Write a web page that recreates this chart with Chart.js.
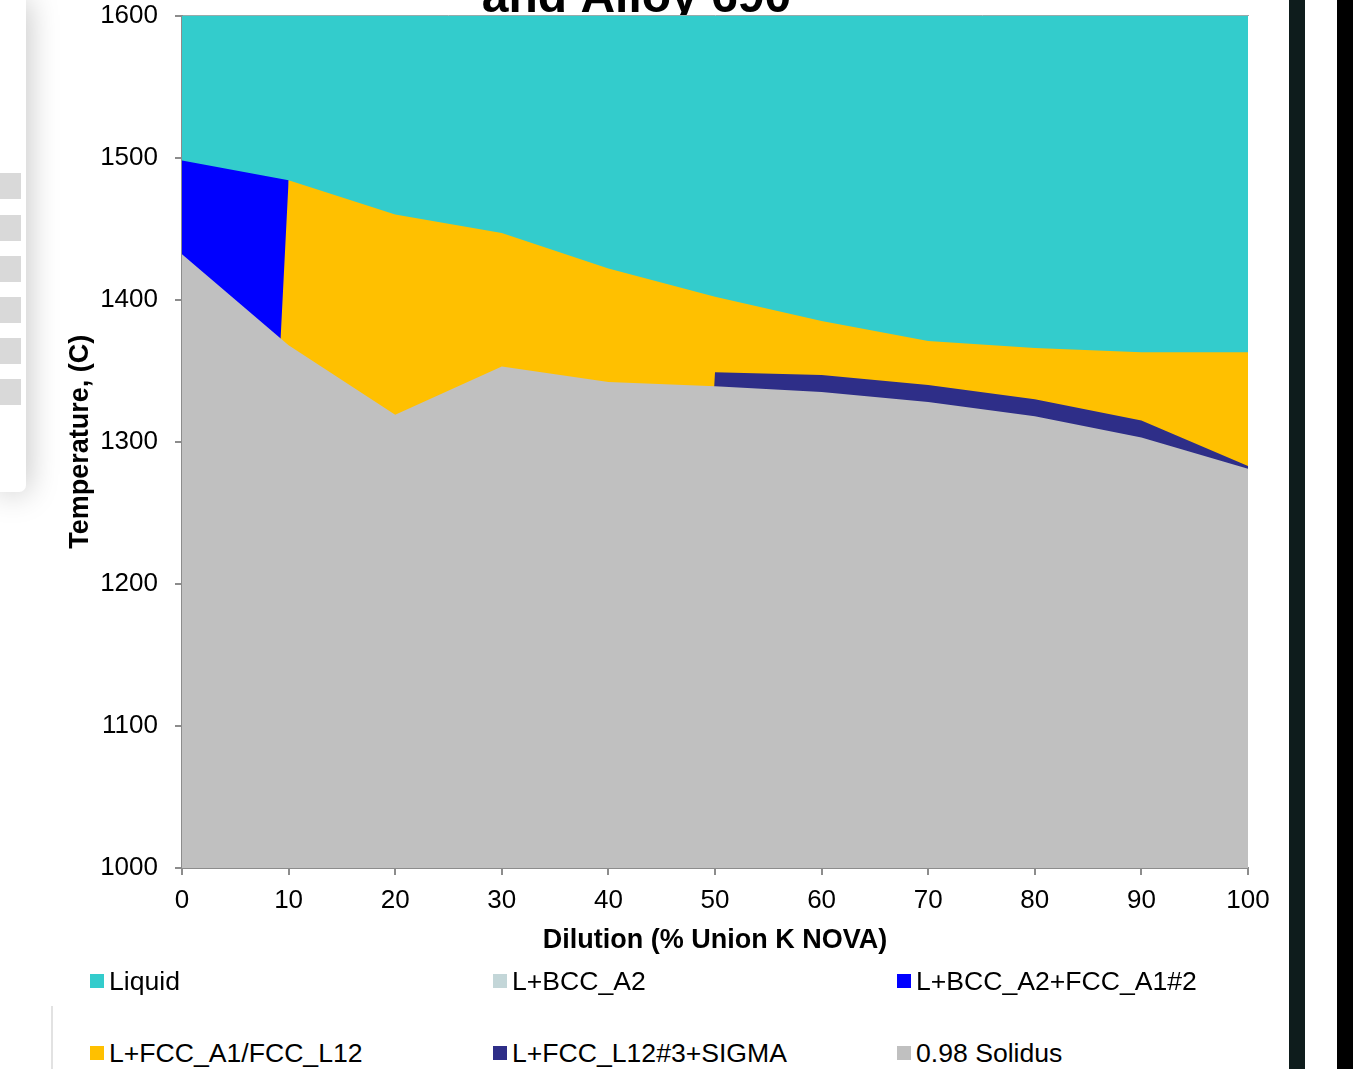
<!DOCTYPE html>
<html>
<head>
<meta charset="utf-8">
<script src="https://cdn.jsdelivr.net/npm/chart.js@4.4.1/dist/chart.umd.min.js"></script>
<style>
  body { margin: 0; background: #fff; width: 1353px; height: 1069px; overflow: hidden; position: relative; font-family: "Liberation Sans", Arial, sans-serif; }
  #wrap { position: absolute; left: 0; top: -19px; width: 1273px; height: 987px; }
  #panel { position: absolute; left: 0; top: 0; width: 26px; height: 492px; background: #fff; border-bottom-right-radius: 7px; box-shadow: 0 0 32px rgba(0,0,0,0.28); z-index: 2; }
  .sq { position: absolute; left: 0; width: 21px; height: 26px; background: #d9d9d9; }
  #vline { position: absolute; left: 51px; top: 1006px; width: 2px; height: 63px; background: #e2e2e2; }
  #bar1 { position: absolute; left: 1289px; top: 0; width: 16px; height: 1069px; background: #0e1c1c; }
  #bar2 { position: absolute; left: 1337px; top: 0; width: 16px; height: 1069px; background: #000; }
  .leg { position: absolute; font-size: 26.6px; color: #000; white-space: nowrap; line-height: 30px; }
  .leg i { position: absolute; left: 0; top: 8px; width: 14px; height: 14px; }
  .leg span { position: absolute; left: 19px; top: 0; }
</style>
</head>
<body>
<div id="panel"></div>
<div id="wrap"><canvas id="myChart"></canvas></div>
<div id="vline"></div>
<div id="bar1"></div>
<div id="bar2"></div>
<div id="legend"></div>
<script>
const ctx = document.getElementById("myChart");

// dilution (% Union K NOVA)
const dilucion = [0, 10, 20, 30, 40, 50, 60, 70, 80, 90, 100];

const series = [
  "Liquid",
  "L+BCC_A2",
  "L+BCC_A2+FCC_A1#2",
  "L+FCC_A1/FCC_L12",
  "L+FCC_L12#3+SIGMA",
  "0.98 Solidus",
];
const colores = ["#33CCCC", "#C3D6D8", "#0000FF", "#FFC000", "#2E2E88", "#C0C0C0"];

// temperaturas (C)
const liquid = [1600, 1600, 1600, 1600, 1600, 1600, 1600, 1600, 1600, 1600, 1600];
const lBcc = [0, 0, 0, 0, 0, 0, 0, 0, 0, 0, 0];
const lBccFcc = [1498, 1484, 0, 0, 0, 0, 0, 0, 0, 0, 0];
const lFcc = [0, 1484, 1460, 1447, 1422, 1402, 1385, 1371, 1366, 1363, 1363];
const lFccSigma = [0, 0, 0, 0, 0, 1349, 1347, 1340, 1330, 1315, 1283];
const solidus = [1432, 1368, 1319, 1353, 1342, 1339, 1335, 1328, 1318, 1303, 1281];

const valores = [liquid, lBcc, lBccFcc, lFcc, lFccSigma, solidus];

const ticksY = [1000, 1100, 1200, 1300, 1400, 1500, 1600];
const ticksX = [0, 10, 20, 30, 40, 50, 60, 70, 80, 90, 100];

// panel de la izquierda
const panel = document.getElementById("panel");
[173, 215, 256, 297, 338, 379].forEach((y) => {
  const d = document.createElement("div");
  d.className = "sq";
  d.style.top = y + "px";
  panel.appendChild(d);
});

const datasets = series.map((nombre, i) => ({
  label: nombre,
  data: dilucion.map((x, j) => ({ x: x, y: valores[i][j] })),
  backgroundColor: colores[i],
  borderColor: colores[i],
  borderWidth: 0,
  pointRadius: 0,
  tension: 0,
  fill: "origin",
  order: series.length - i, // Liquid se pinta primero
}));

const gris = "#8C8C8C";
const fuente = { family: "'Liberation Sans', Arial, sans-serif", size: 26 };
const fuenteTitulo = { family: fuente.family, size: 27, weight: "bold" };

new Chart(ctx, {
  type: "line",
  data: { datasets: datasets },
  options: {
    responsive: true,
    maintainAspectRatio: false,
    animation: false,
    layout: { padding: 0 },
    plugins: {
      legend: { display: false },
      tooltip: { enabled: false },
      title: {
        display: true,
        text: "and Alloy 690",
        color: "#000",
        font: { family: fuente.family, size: 48, weight: "bold", lineHeight: 0.72 },
        padding: { top: 0, bottom: 0 },
      },
    },
    scales: {
      x: {
        type: "linear",
        min: 0,
        max: 100,
        afterBuildTicks: (scale) => {
          scale.ticks = ticksX.map((v) => ({ value: v }));
        },
        afterFit: (scale) => {
          scale.height = 100;
          scale.paddingLeft = 0;
          scale.paddingRight = 0;
        },
        grid: { drawOnChartArea: false, color: gris, lineWidth: 2, tickLength: 7 },
        border: { color: gris, width: 2 },
        ticks: { color: "#000", font: fuente, padding: 10, maxRotation: 0 },
        title: {
          display: true,
          text: "Dilution (% Union K NOVA)",
          color: "#000",
          font: fuenteTitulo,
          padding: { top: 0, bottom: 11 },
        },
      },
      // borde superior del area
      x2: {
        type: "linear",
        position: "top",
        min: 0,
        max: 100,
        grid: { display: false },
        ticks: { display: false },
        border: { color: "#A6A6A6", width: 1 },
        afterFit: (scale) => {
          scale.height = 0;
          scale.paddingLeft = 0;
          scale.paddingRight = 0;
        },
      },
      y: {
        min: 1000,
        max: 1600,
        afterBuildTicks: (scale) => {
          scale.ticks = ticksY.map((v) => ({ value: v }));
        },
        afterFit: (scale) => {
          scale.width = 182;
        },
        grid: { drawOnChartArea: false, color: gris, lineWidth: 2, tickLength: 7 },
        border: { color: gris, width: 2 },
        ticks: { color: "#000", font: fuente, padding: 17, callback: (v) => String(v) },
        title: {
          display: true,
          text: "Temperature, (C)",
          color: "#000",
          font: fuenteTitulo,
          padding: { top: 64, bottom: 0 },
        },
      },
      // margen derecho vacio
      y2: {
        position: "right",
        grid: { display: false },
        border: { display: false },
        ticks: { display: false },
        afterFit: (scale) => {
          scale.width = 25;
        },
      },
    },
  },
});

// leyenda
const legend = document.getElementById("legend");
const posLeyenda = [
  [90, 966], [493, 966], [897, 966],
  [90, 1038], [493, 1038], [897, 1038],
];
series.forEach((nombre, i) => {
  const d = document.createElement("div");
  d.className = "leg";
  d.style.left = posLeyenda[i][0] + "px";
  d.style.top = posLeyenda[i][1] + "px";
  d.innerHTML = '<i style="background:' + colores[i] + '"></i><span></span>';
  d.querySelector("span").textContent = nombre;
  legend.appendChild(d);
});
</script>
</body>
</html>
